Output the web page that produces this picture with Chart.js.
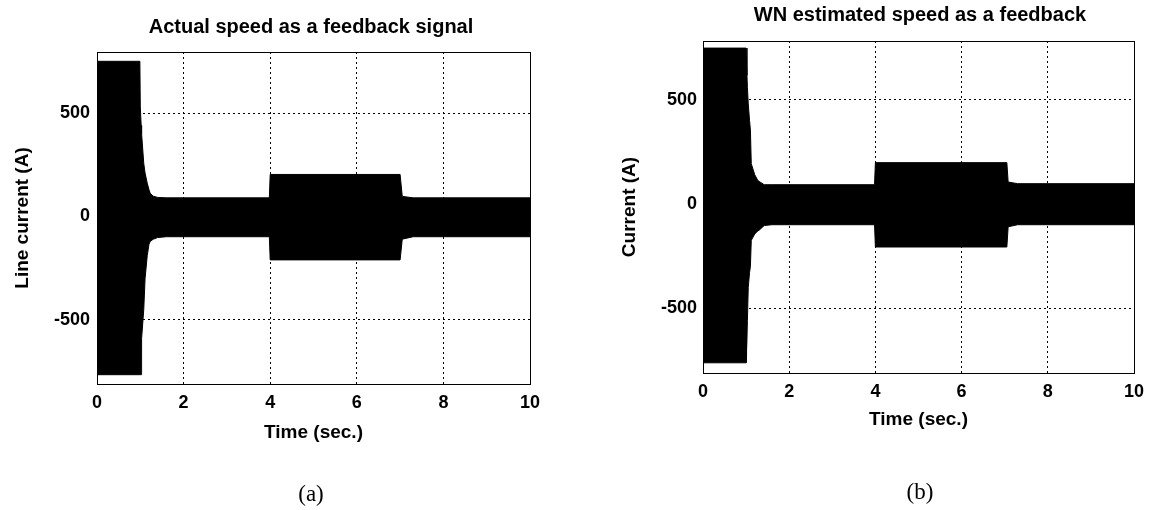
<!DOCTYPE html>
<html><head><meta charset="utf-8">
<script src="https://cdn.jsdelivr.net/npm/chart.js@4.4.1/dist/chart.umd.min.js"></script>
<style>
html,body{margin:0;padding:0;background:#fff;overflow:hidden;width:1154px;height:510px;position:relative;}
canvas{position:absolute;top:0;}
#ca{left:0px;}
#cb{left:610px;}
</style></head><body>
<canvas id="ca" width="622" height="510"></canvas>
<canvas id="cb" width="620" height="510"></canvas>
<script>
// ---- data ----
const xTicks = [0, 2, 4, 6, 8, 10];
const yTicks = [-500, 0, 500];

const titleA = 'Actual speed as a feedback signal';
const yLabelA = 'Line current (A)';
const captionA = '(a)';
const timeA  = [0, 0.99, 1.0, 1.02, 1.03, 1.08, 1.11, 1.16, 1.2, 1.23, 1.3, 1.4, 1.6, 3.98, 4.0, 7.0, 7.05, 7.3, 10];
const upperA = [750, 750, 530, 440, 400, 256, 210, 161, 130, 111, 98, 92, 90, 90, 203, 203, 97, 90, 90];
const lowerA = [-765, -765, -765, -765, -590, -450, -300, -190, -135, -120, -110, -102, -98, -98, -210, -210, -110, -98, -98];

const titleB = 'WN estimated speed as a feedback';
const yLabelB = 'Current (A)';
const captionB = '(b)';
const timeB  = [0, 1.0, 1.02, 1.03, 1.05, 1.08, 1.1, 1.12, 1.2, 1.27, 1.3, 1.42, 1.6, 3.98, 4.0, 7.05, 7.08, 7.3, 10];
const upperB = [748, 748, 617, 560, 480, 400, 354, 193, 140, 113, 108, 92, 92, 92, 198, 198, 105, 97, 97];
const lowerB = [-763, -763, -763, -560, -400, -330, -300, -175, -145, -130, -127, -104, -100, -100, -207, -207, -110, -100, -100];

const xLabel = 'Time (sec.)';

// ---- drawing ----
const SANS = "'Liberation Sans', Arial, sans-serif";
const SERIF = "'Liberation Serif', 'Times New Roman', serif";

function build(id, o) {
  const pts = (ys) => o.t.map((t, i) => ({x: t, y: ys[i]}));
  new Chart(document.getElementById(id), {
    type: 'line',
    data: {datasets: [
      {data: pts(o.up), xAxisID: 'x', yAxisID: 'y', borderColor: '#000', backgroundColor: '#000',
       borderWidth: 1, pointRadius: 0, fill: '+1', tension: 0},
      {data: pts(o.lo), xAxisID: 'x', yAxisID: 'y', borderColor: '#000', backgroundColor: '#000',
       borderWidth: 1, pointRadius: 0, fill: false, tension: 0}
    ]},
    options: {
      responsive: false, animation: false, devicePixelRatio: 1,
      layout: {padding: 0},
      plugins: {
        legend: {display: false}, tooltip: {enabled: false},
        title: {display: true, text: o.title, color: '#000',
          font: {family: SANS, size: 20, weight: 'bold'},
          padding: {top: o.tPadT, bottom: o.tPadB}},
        subtitle: {display: true, position: 'bottom', text: o.caption, color: '#000',
          font: {family: SERIF, size: 23, weight: 'normal'},
          padding: {top: o.cPadT, bottom: o.cPadB}}
      },
      scales: {
        x: {type: 'linear', axis: 'x', position: 'bottom', min: 0, max: 10,
          afterBuildTicks: s => { s.ticks = xTicks.map(v => ({value: v})); },
          afterFit: s => { s.height = 70; },
          grid: {color: '#000', lineWidth: 1, drawTicks: false},
          border: {display: true, color: '#000', width: 1, dash: [2, 3]},
          ticks: {color: '#000', padding: 8, maxRotation: 0, autoSkip: false,
            font: {family: SANS, size: 18, weight: 'bold'}},
          title: {display: true, text: xLabel, color: '#000',
            font: {family: SANS, size: 19, weight: 'bold'},
            padding: {top: 0, bottom: o.xtPadB}}},
        x2: {type: 'linear', axis: 'x', position: 'top', min: 0, max: 10,
          afterFit: s => { s.height = 0; },
          grid: {display: false, drawTicks: false},
          border: {display: true, color: '#000', width: 1},
          ticks: {display: false}},
        y: {type: 'linear', axis: 'y', position: 'left', min: o.ymin, max: o.ymax,
          afterBuildTicks: s => { s.ticks = yTicks.map(v => ({value: v})); },
          afterFit: s => { s.width = o.left; },
          grid: {color: '#000', lineWidth: 1, drawTicks: false},
          border: {display: true, color: '#000', width: 1, dash: [2, 3]},
          ticks: {color: '#000', padding: o.ytPad,
            font: {family: SANS, size: 18, weight: 'bold'}},
          title: {display: true, text: o.yLabel, color: '#000',
            font: {family: SANS, size: 19, weight: 'bold'},
            padding: {top: o.yTitlePad, bottom: 0}}},
        y2: {type: 'linear', axis: 'y', position: 'right', min: o.ymin, max: o.ymax,
          afterFit: s => { s.width = o.rightSpace; },
          grid: {display: false, drawTicks: false},
          border: {display: true, color: '#000', width: 1},
          ticks: {display: false}}
      }
    }
  });
}

build('ca', {t: timeA, up: upperA, lo: lowerA, title: titleA, yLabel: yLabelA, caption: captionA,
  ymin: -810, ymax: 795, left: 97, rightSpace: 92,
  tPadT: 15.5, tPadB: 12.5, cPadT: 27.2, cPadB: 1.2, xtPadB: 9.6, ytPad: 7, yTitlePad: 11.6});

build('cb', {t: timeB, up: upperB, lo: lowerB, title: titleB, yLabel: yLabelB, caption: captionB,
  ymin: -812, ymax: 782, left: 93, rightSpace: 96,
  tPadT: 3, tPadB: 14, cPadT: 36.2, cPadB: 3.2, xtPadB: 11.6, ytPad: 6, yTitlePad: 8.6});
</script>
</body></html>
